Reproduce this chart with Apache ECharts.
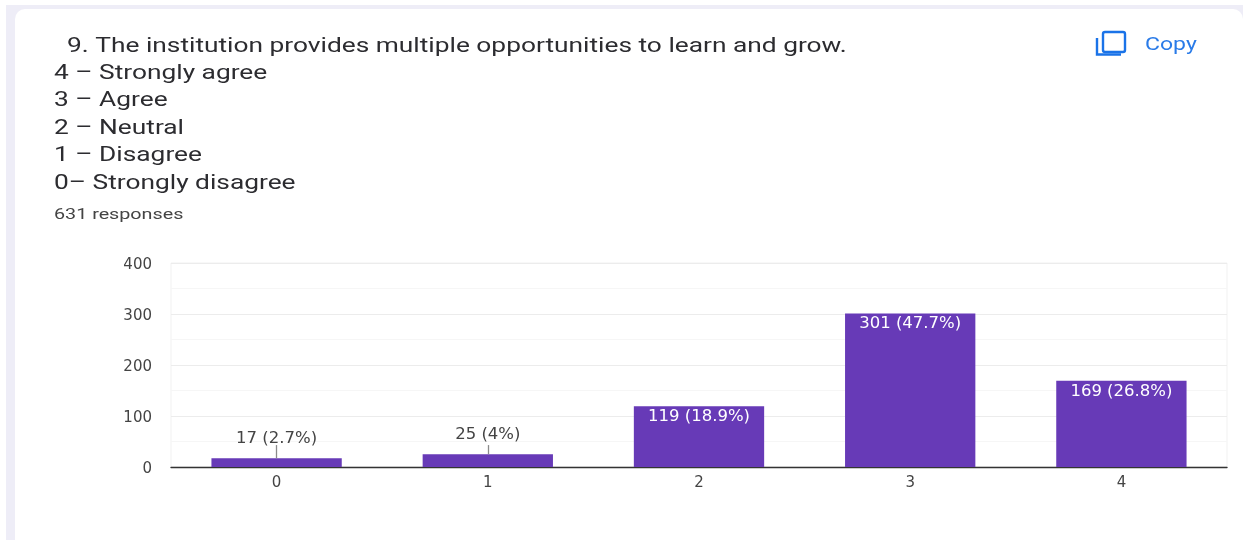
<!DOCTYPE html>
<html>
<head>
<meta charset="utf-8">
<style>html,body{margin:0;padding:0;background:#fff}#c{width:1243px;height:540px}</style>
<script src="https://cdn.jsdelivr.net/npm/echarts@6/dist/echarts.min.js"></script>
</head>
<body>
<div id="c"></div>
<script>
const categories = ['0', '1', '2', '3', '4'];
const counts = [17, 25, 119, 301, 169];
const percents = ['2.7%', '4%', '18.9%', '47.7%', '26.8%'];
const questionLines = ['4 \u2013 Strongly agree', '3 \u2013 Agree', '2 \u2013 Neutral', '1 \u2013 Disagree', '0\u2013 Strongly disagree'];
const questionTitle = '9. The institution provides multiple opportunities to learn and grow.';
const responses = '631 responses';
const copyText = 'Copy';
const yMax = 400, yStep = 100;

const PURPLE = '#673ab7', TXT = '#444444', HEAD = '#2c2c30';
const chartFont = '"DejaVu Sans"';
const headFont = 'Roboto';
const stretch = 1.315;

const chart = echarts.init(document.getElementById('c'), null, {renderer: 'canvas'});

const lineY = [74, 101, 129, 156, 184];
const headText = (text, x, y, size, fill, weight) => ({
  type: 'text', x, y, scaleX: stretch, silent: true,
  style: {text, fill, font: `${weight || 400} ${size}px ${headFont}`, verticalAlign: 'middle'}
});

const option = {
  animation: false,
  backgroundColor: '#fff',
  grid: {left: 171, right: 16, top: 263, bottom: 73, show: true, borderColor: '#f1f1f1', borderWidth: 1, backgroundColor: 'transparent'},
  xAxis: {
    type: 'category', data: categories,
    axisLine: {lineStyle: {color: '#333', width: 1.4}},
    axisTick: {show: false},
    axisLabel: {color: TXT, fontFamily: chartFont, fontSize: 15, margin: 9}
  },
  yAxis: {
    type: 'value', min: 0, max: yMax, interval: yStep,
    axisLine: {show: false}, axisTick: {show: false},
    axisLabel: {color: TXT, fontFamily: chartFont, fontSize: 15, margin: 19, verticalAlign: 'top', lineHeight: 4},
    splitLine: {lineStyle: {color: '#ececec'}},
    minorTick: {show: false, splitNumber: 2},
    minorSplitLine: {show: true, lineStyle: {color: '#f6f6f6'}}
  },
  series: [{
    type: 'bar', barWidth: '61.7%', silent: true,
    itemStyle: {color: PURPLE},
    data: counts.map((v, i) => {
      const big = v >= 100;
      return {
        value: v,
        label: {
          show: true,
          position: big ? 'insideTop' : 'top',
          distance: big ? 2 : 11,
          formatter: `${v} (${percents[i]})`,
          color: big ? '#fff' : TXT,
          fontFamily: chartFont, fontSize: 16.5
        }
      };
    }),
    markLine: {
      silent: true, symbol: 'none', label: {show: false},
      lineStyle: {color: '#8a8a8a', width: 1.3, type: 'solid'},
      data: [
        [{coord: ['0', counts[0]]}, {coord: ['0', counts[0] + 26]}],
        [{coord: ['1', counts[1]]}, {coord: ['1', counts[1] + 18]}]
      ]
    }
  }],
  graphic: {elements: [
    {type: 'rect', silent: true, z: -10, shape: {x: 6, y: 5, width: 1237, height: 535}, style: {fill: '#eeedf7'}},
    {type: 'rect', silent: true, z: -9, shape: {x: 15, y: 9, width: 1228, height: 531, r: [10, 10, 0, 0]}, style: {fill: '#fff'}},
    headText(questionTitle, 67, 46.5, 20, HEAD),
    ...questionLines.map((t, i) => headText(t, 54, lineY[i], 20, HEAD)),
    headText(responses, 54, 215, 15, '#444'),
    headText(copyText, 1145, 46, 17.5, '#2a7be8'),
    {type: 'rect', silent: true, shape: {x: 1103, y: 32, width: 22, height: 20, r: 2}, style: {fill: 'none', stroke: '#1a73e8', lineWidth: 2.4}},
    {type: 'polyline', silent: true, shape: {points: [[1097, 38], [1097, 54.5], [1121, 54.5]]}, style: {fill: 'none', stroke: '#1a73e8', lineWidth: 2.4}}
  ]}
};
chart.setOption(option);
</script>
</body>
</html>
